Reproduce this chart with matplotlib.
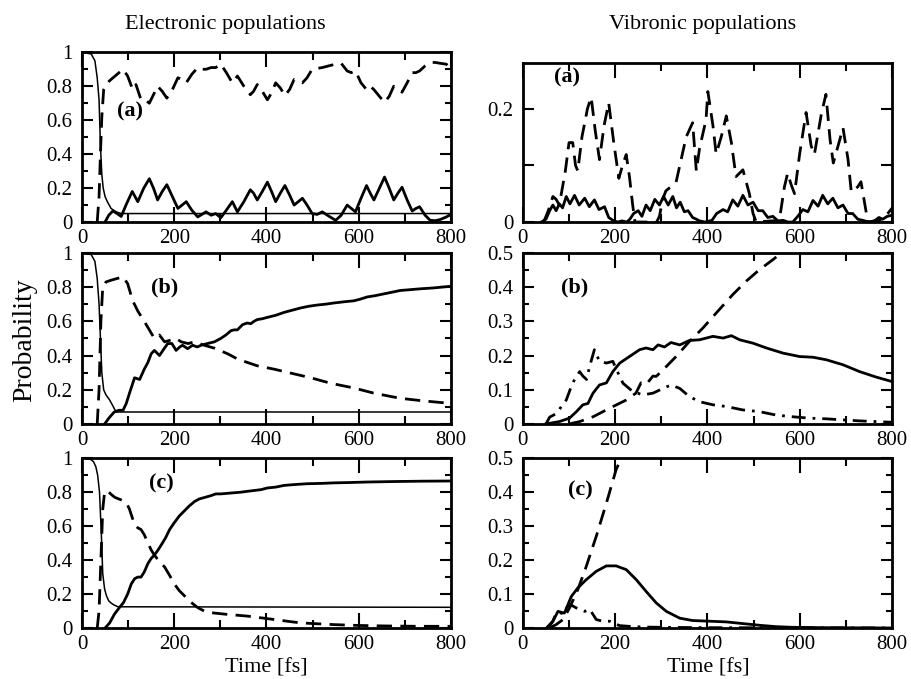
import matplotlib
matplotlib.use("Agg")
import matplotlib.pyplot as plt
from matplotlib.ticker import MultipleLocator, FuncFormatter

plt.rcParams['font.family'] = ['Liberation Serif', 'DejaVu Serif']

# ---------------- electronic populations ----------------
# (a)
ea_t_decay = [0, 20, 28, 33, 37, 40, 43, 46, 50, 55, 63, 74, 85, 800]
ea_decay = [1.0, 0.99, 0.95, 0.85, 0.72, 0.45, 0.28, 0.2, 0.15, 0.12, 0.08, 0.06, 0.05, 0.05]

ea_t_solid = [50, 58, 67, 76, 85, 97, 109, 121, 134, 146, 155, 164, 174, 184, 196, 208, 217, 226,
              238, 251, 260, 269, 280, 290, 301, 313, 326, 337, 351, 365, 372, 380, 391, 402, 411,
              420, 430, 440, 450, 460, 469, 478, 488, 499, 510, 521, 535, 550, 562, 575, 584, 593,
              605, 617, 625, 633, 645, 656, 666, 676, 685, 694, 705, 716, 724, 732, 744, 755, 766,
              777, 790, 800]
ea_solid = [0.0, 0.04, 0.065, 0.05, 0.033, 0.11, 0.18, 0.12, 0.2, 0.255, 0.2, 0.13, 0.18, 0.22,
            0.15, 0.08, 0.1, 0.12, 0.07, 0.03, 0.045, 0.06, 0.04, 0.05, 0.025, 0.07, 0.12, 0.06,
            0.12, 0.19, 0.17, 0.13, 0.18, 0.235, 0.18, 0.12, 0.17, 0.215, 0.16, 0.1, 0.12, 0.14,
            0.1, 0.05, 0.045, 0.06, 0.035, 0.01, 0.04, 0.10, 0.08, 0.06, 0.14, 0.215, 0.17, 0.13,
            0.2, 0.265, 0.2, 0.13, 0.17, 0.205, 0.13, 0.065, 0.08, 0.09, 0.04, 0.01, 0.008, 0.015,
            0.03, 0.045]

ea_t_dash = [33, 37, 40, 43, 47, 55, 63, 76, 89, 99, 110, 117, 128, 137, 146, 155, 164, 174, 184,
             196, 208, 217, 226, 238, 251, 260, 269, 280, 290, 301, 313, 326, 337, 351, 365, 372,
             380, 391, 402, 411, 420, 430, 440, 450, 460, 469, 478, 488, 499, 510, 521, 535, 550,
             562, 575, 584, 593, 605, 617, 625, 633, 645, 656, 666, 676, 685, 694, 705, 716, 724,
             732, 744, 755, 766, 777, 790, 800]
ea_dash = [0.0, 0.15, 0.4, 0.62, 0.78, 0.82, 0.84, 0.87, 0.9, 0.86, 0.78, 0.81, 0.72, 0.72, 0.70,
           0.75, 0.80, 0.77, 0.73, 0.78, 0.85, 0.84, 0.82, 0.87, 0.91, 0.9, 0.9, 0.91, 0.91, 0.93,
           0.88, 0.82, 0.86, 0.8, 0.75, 0.77, 0.81, 0.77, 0.72, 0.76, 0.82, 0.79, 0.745, 0.78,
           0.84, 0.83, 0.82, 0.85, 0.9, 0.905, 0.91, 0.92, 0.93, 0.935, 0.89, 0.88, 0.89, 0.82,
           0.78, 0.8, 0.78, 0.74, 0.705, 0.74, 0.8, 0.78, 0.765, 0.82, 0.88, 0.88, 0.89, 0.92,
           0.94, 0.94, 0.935, 0.93, 0.9]

# (b)
eb_t_decay = [0, 20, 28, 33, 37, 40, 43, 47, 52, 60, 68, 74, 800]
eb_decay = [1.0, 0.99, 0.95, 0.85, 0.7, 0.5, 0.3, 0.2, 0.17, 0.14, 0.1, 0.07, 0.07]

eb_t_solid = [49, 60, 70, 80, 89, 96, 103, 114, 125, 135, 143, 150, 157, 168, 178, 186, 195, 204,
              212, 218, 229, 240, 250, 258, 272, 287, 301, 312, 323, 330, 337, 348, 358, 366, 373,
              380, 391, 402, 420, 438, 456, 474, 492, 510, 528, 546, 568, 590, 604, 618, 636, 654,
              672, 690, 712, 734, 762, 800]
eb_solid = [0.0, 0.04, 0.07, 0.08, 0.08, 0.12, 0.18, 0.27, 0.26, 0.32, 0.36, 0.41, 0.43, 0.40,
            0.44, 0.47, 0.47, 0.43, 0.45, 0.46, 0.44, 0.46, 0.45, 0.46, 0.47, 0.48, 0.50, 0.52,
            0.545, 0.55, 0.55, 0.58, 0.59, 0.586, 0.60, 0.61, 0.615, 0.623, 0.635, 0.652, 0.665,
            0.678, 0.688, 0.695, 0.70, 0.707, 0.714, 0.72, 0.73, 0.742, 0.75, 0.76, 0.77, 0.78,
            0.785, 0.79, 0.795, 0.805]

eb_t_dash = [33, 37, 41, 45, 52, 63, 76, 89, 99, 110, 121, 135, 146, 157, 168, 179, 192, 204, 215,
             230, 244, 265, 287, 316, 337, 358, 380, 417, 453, 496, 539, 590, 633, 690, 740, 800]
eb_dash = [0.0, 0.2, 0.6, 0.8, 0.83, 0.84, 0.85, 0.86, 0.82, 0.72, 0.66, 0.6, 0.55, 0.50, 0.52,
           0.48, 0.49, 0.50, 0.48, 0.47, 0.48, 0.46, 0.443, 0.41, 0.38, 0.36, 0.34, 0.32, 0.297,
           0.27, 0.238, 0.21, 0.18, 0.15, 0.135, 0.12]

# (c)
ec_t_decay = [0, 18, 25, 30, 34, 38, 42, 45, 49, 53, 58, 63, 70, 78, 800]
ec_decay = [1.0, 0.995, 0.98, 0.95, 0.9, 0.8, 0.55, 0.32, 0.23, 0.19, 0.16, 0.147, 0.135, 0.125, 0.122]

ec_t_solid = [50, 60, 70, 81, 90, 99, 107, 114, 121, 128, 135, 143, 150, 157, 165, 172, 181, 190,
              200, 211, 222, 233, 244, 254, 267, 280, 290, 301, 322, 344, 358, 373, 388, 402, 420,
              438, 460, 489, 520, 546, 580, 618, 680, 740, 800]
ec_solid = [0.0, 0.03, 0.08, 0.12, 0.15, 0.2, 0.26, 0.29, 0.3, 0.3, 0.33, 0.38, 0.41, 0.43, 0.46,
            0.49, 0.53, 0.58, 0.62, 0.66, 0.69, 0.72, 0.745, 0.76, 0.77, 0.78, 0.79, 0.79, 0.795,
            0.80, 0.805, 0.81, 0.815, 0.825, 0.83, 0.84, 0.845, 0.85, 0.852, 0.855, 0.857, 0.86,
            0.863, 0.865, 0.866]

ec_t_dash = [33, 37, 41, 45, 49, 55, 62, 71, 80, 89, 96, 103, 109, 114, 121, 128, 135, 143, 150,
             157, 168, 179, 190, 200, 211, 222, 237, 251, 265, 280, 298, 316, 338, 359, 388, 417,
             445, 474, 510, 546, 600, 660, 730, 800]
ec_dash = [0.0, 0.1, 0.4, 0.7, 0.8, 0.81, 0.79, 0.77, 0.76, 0.75, 0.74, 0.70, 0.65, 0.61, 0.59,
           0.58, 0.55, 0.50, 0.46, 0.43, 0.39, 0.36, 0.31, 0.26, 0.22, 0.19, 0.15, 0.12, 0.10,
           0.09, 0.085, 0.08, 0.075, 0.07, 0.06, 0.05, 0.04, 0.03, 0.025, 0.02, 0.015, 0.012,
           0.01, 0.01]

# ---------------- vibronic populations ----------------
# (a)
va_t_solid = [40, 50, 58, 65, 72, 79, 86, 94, 102, 112, 122, 134, 144, 155, 165, 177, 186, 195,
              205, 215, 225, 232, 240, 250, 258, 267, 276, 286, 296, 305, 315, 325, 333, 341, 350,
              358, 368, 376, 383, 395, 410, 420, 434, 444, 455, 466, 477, 488, 499, 510, 520, 531,
              542, 553, 564, 575, 585, 596, 607, 618, 629, 640, 650, 661, 672, 683, 694, 705, 715,
              726, 737, 750, 762, 772, 780, 790, 800]
va_solid = [0.0, 0.005, 0.02, 0.03, 0.02, 0.032, 0.025, 0.045, 0.032, 0.047, 0.03, 0.042, 0.027,
            0.039, 0.022, 0.027, 0.008, 0.003, 0.0, 0.002, 0.0, 0.005, 0.015, 0.02, 0.01, 0.03,
            0.02, 0.04, 0.03, 0.045, 0.03, 0.045, 0.025, 0.035, 0.018, 0.02, 0.008, 0.005, 0.002,
            0.0, 0.003, 0.015, 0.022, 0.018, 0.039, 0.028, 0.047, 0.03, 0.035, 0.02, 0.02, 0.008,
            0.01, 0.002, 0.003, 0.0, 0.0, 0.01, 0.022, 0.018, 0.038, 0.028, 0.047, 0.032, 0.042,
            0.025, 0.03, 0.015, 0.015, 0.005, 0.003, 0.0, 0.002, 0.008, 0.005, 0.01, 0.012]

va_t_dash = [45, 55, 65, 72, 79, 92, 100, 108, 114, 119, 128, 140, 148, 157, 166, 176, 186, 197,
             208, 216, 224, 231, 238, 243, 250, 290, 296, 303, 310, 325, 332, 343, 354, 368, 376,
             383, 397, 401, 412, 419, 430, 441, 452, 462, 477, 491, 499, 506, 556, 567, 574, 582,
             589, 600, 614, 625, 632, 647, 657, 666, 673, 687, 694, 705, 712, 726, 733, 741, 748,
             773, 788, 800]
va_dash = [0.0, 0.02, 0.045, 0.04, 0.03, 0.09, 0.14, 0.14, 0.1, 0.09, 0.15, 0.2, 0.22, 0.16, 0.11,
           0.17, 0.21, 0.14, 0.077, 0.1, 0.119, 0.08, 0.03, 0.0, 0.0, 0.0, 0.01, 0.04, 0.055,
           0.065, 0.07, 0.11, 0.15, 0.175, 0.09, 0.13, 0.18, 0.23, 0.17, 0.12, 0.15, 0.187, 0.14,
           0.08, 0.092, 0.05, 0.015, 0.0, 0.003, 0.062, 0.086, 0.065, 0.05, 0.12, 0.193, 0.134,
           0.119, 0.19, 0.225, 0.145, 0.104, 0.145, 0.166, 0.11, 0.053, 0.062, 0.071, 0.033, 0.0,
           0.003, 0.012, 0.024]

# (b)
vb_t_solid = [50, 79, 101, 116, 130, 141, 152, 166, 181, 195, 210, 231, 253, 267, 282, 293, 307,
              321, 340, 361, 383, 412, 434, 452, 470, 499, 528, 564, 600, 629, 658, 694, 730, 766, 800]
vb_solid = [0.0, 0.007, 0.017, 0.036, 0.056, 0.06, 0.09, 0.114, 0.12, 0.153, 0.178, 0.197, 0.217,
            0.222, 0.217, 0.231, 0.225, 0.238, 0.231, 0.244, 0.246, 0.256, 0.251, 0.258, 0.246,
            0.236, 0.222, 0.207, 0.197, 0.195, 0.1875, 0.173, 0.153, 0.137, 0.124]

vb_t_dash = [100, 123, 152, 188, 224, 245, 256, 267, 282, 289, 311, 332, 361, 390, 419, 455, 484,
             513, 542, 560, 580]
vb_dash = [0.0, 0.007, 0.021, 0.046, 0.07, 0.09, 0.12, 0.115, 0.14, 0.139, 0.168, 0.197, 0.241,
           0.28, 0.324, 0.378, 0.417, 0.451, 0.48, 0.5, 0.52]

vb_t_dd = [50, 58, 72, 94, 105, 112, 123, 130, 138, 145, 155, 166, 181, 195, 206, 217, 238, 260,
           282, 304, 321, 340, 361, 383, 412, 441, 477, 513, 549, 585, 621, 658, 694, 730, 800]
vb_dd = [0.0, 0.02, 0.03, 0.07, 0.11, 0.13, 0.153, 0.14, 0.13, 0.17, 0.217, 0.183, 0.178, 0.183,
         0.15, 0.119, 0.095, 0.085, 0.09, 0.104, 0.114, 0.104, 0.08, 0.065, 0.056, 0.051, 0.041,
         0.036, 0.026, 0.021, 0.017, 0.015, 0.012, 0.009, 0.005]

# (c)
vc_t_solid = [51, 65, 76, 90, 105, 119, 137, 159, 181, 202, 224, 246, 267, 289, 311, 340, 368,
              405, 441, 477, 513, 549, 585, 650, 800]
vc_solid = [0.0, 0.02, 0.049, 0.044, 0.093, 0.118, 0.142, 0.167, 0.183, 0.183, 0.172, 0.142,
            0.108, 0.074, 0.049, 0.029, 0.022, 0.02, 0.018, 0.013, 0.008, 0.004, 0.002, 0.001, 0.0]

vc_t_dash = [58, 72, 87, 101, 119, 137, 159, 181, 202, 213, 220]
vc_dash = [0.0, 0.01, 0.025, 0.059, 0.113, 0.18, 0.27, 0.368, 0.466, 0.5, 0.53]

vc_t_dd = [55, 65, 72, 80, 87, 95, 101, 108, 116, 125, 134, 145, 152, 159, 173, 188, 200, 210,
           230, 260, 300, 400, 800]
vc_dd = [0.0, 0.02, 0.044, 0.045, 0.042, 0.06, 0.07, 0.065, 0.059, 0.055, 0.049, 0.055, 0.04,
         0.025, 0.02, 0.02, 0.012, 0.007, 0.005, 0.003, 0.002, 0.001, 0.0]

DASH = (0, (5.5, 3))
DASHDOT = (0, (5, 2.5, 1, 2.5))
FS = 15
lw = 2.0

fig = plt.figure(figsize=(9.11, 6.79), dpi=100)

L, R, W = 0.090, 0.574, 0.405
ax_ea = fig.add_axes([L, 0.673, W, 0.250])
ax_eb = fig.add_axes([L, 0.3756, W, 0.252])
ax_ec = fig.add_axes([L, 0.0751, W, 0.250])
ax_va = fig.add_axes([R, 0.673, W, 0.234])
ax_vb = fig.add_axes([R, 0.3756, W, 0.252])
ax_vc = fig.add_axes([R, 0.0751, W, 0.250])

fmt = FuncFormatter(lambda v, p: "%g" % round(v, 3))


def style(ax, ymax, ymajor, yminor):
    ax.set_xlim(0, 800)
    ax.set_ylim(0, ymax)
    ax.xaxis.set_major_locator(MultipleLocator(200))
    ax.xaxis.set_minor_locator(MultipleLocator(100))
    ax.yaxis.set_major_locator(MultipleLocator(ymajor))
    if yminor:
        ax.yaxis.set_minor_locator(MultipleLocator(yminor))
    ax.xaxis.set_major_formatter(fmt)
    ax.yaxis.set_major_formatter(fmt)
    ax.tick_params(which="both", direction="in", top=True, right=True, width=1.5, labelsize=FS)
    ax.tick_params(axis="x", which="major", length=11, pad=5)
    ax.tick_params(axis="x", which="minor", length=6)
    ax.tick_params(axis="y", which="major", length=8, pad=7)
    ax.tick_params(axis="y", which="minor", length=4.5)
    for s in ax.spines.values():
        s.set_linewidth(2)


for ax in (ax_ea, ax_eb, ax_ec):
    style(ax, 1.0, 0.2, 0.1)
for ax in (ax_vb, ax_vc):
    style(ax, 0.5, 0.1, 0.05)
style(ax_va, 0.28, 0.1, None)
ax_va.yaxis.set_major_formatter(FuncFormatter(lambda v, p: "" if abs(v - 0.1) < 1e-6 else "%g" % round(v, 3)))

ax_ea.plot(ea_t_decay, ea_decay, color="black", lw=1.1)
ax_ea.plot(ea_t_solid, ea_solid, color="black", lw=lw)
ax_ea.plot(ea_t_dash, ea_dash, color="black", lw=lw, linestyle=DASH)

ax_eb.plot(eb_t_decay, eb_decay, color="black", lw=1.1)
ax_eb.plot(eb_t_solid, eb_solid, color="black", lw=lw)
ax_eb.plot(eb_t_dash, eb_dash, color="black", lw=lw, linestyle=DASH)

ax_ec.plot(ec_t_decay, ec_decay, color="black", lw=1.1)
ax_ec.plot(ec_t_solid, ec_solid, color="black", lw=lw)
ax_ec.plot(ec_t_dash, ec_dash, color="black", lw=lw, linestyle=DASH)

ax_va.plot(va_t_solid, va_solid, color="black", lw=lw)
ax_va.plot(va_t_dash, va_dash, color="black", lw=lw, linestyle=DASH)

ax_vb.plot(vb_t_solid, vb_solid, color="black", lw=lw)
ax_vb.plot(vb_t_dash, vb_dash, color="black", lw=lw, linestyle=DASH)
ax_vb.plot(vb_t_dd, vb_dd, color="black", lw=lw, linestyle=DASHDOT)

ax_vc.plot(vc_t_solid, vc_solid, color="black", lw=lw)
ax_vc.plot(vc_t_dash, vc_dash, color="black", lw=lw, linestyle=DASH)
ax_vc.plot(vc_t_dd, vc_dd, color="black", lw=lw, linestyle=DASHDOT)

lab = dict(fontsize=16, fontweight="bold", ha="center", va="center")
ax_ea.text(105, 0.65, "(a)", **lab)
ax_eb.text(180, 0.8, "(b)", **lab)
ax_ec.text(173, 0.85, "(c)", **lab)
ax_va.text(95, 0.254, "(a)", **lab)
ax_vb.text(113, 0.40, "(b)", **lab)
ax_vc.text(124, 0.405, "(c)", **lab)

fig.text(225 / 911, 1 - 25 / 679, "Electronic populations", fontsize=16, ha="center", va="center")
fig.text(703 / 911, 1 - 25 / 679, "Vibronic populations", fontsize=16, ha="center", va="center")
fig.text(25 / 911, 1 - 340 / 679, "Probability", fontsize=20, rotation=90, ha="center", va="center")
fig.text(266 / 911, 1 - 668 / 679, "Time [fs]", fontsize=16, ha="center", va="center")
fig.text(708 / 911, 1 - 668 / 679, "Time [fs]", fontsize=16, ha="center", va="center")

fig.savefig("out.png", dpi=100)
